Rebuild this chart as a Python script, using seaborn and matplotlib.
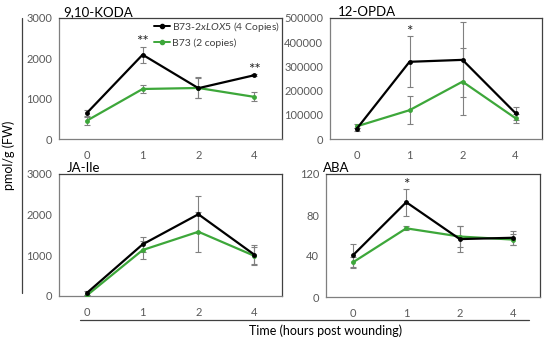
import numpy as np
import pandas as pd
import seaborn as sns
import matplotlib
matplotlib.use("Agg")
import matplotlib.pyplot as plt
from matplotlib.lines import Line2D

#%% data
times = ["0", "1", "2", "4"]

koda_lox5 = [645, 2090, 1260, 1580]
koda_lox5_err = [80, 200, 250, 30]
koda_b73 = [455, 1240, 1265, 1045]
koda_b73_err = [100, 110, 260, 115]

opda_lox5 = [41000, 319000, 327000, 107000]
opda_lox5_err = [6000, 106000, 155000, 27000]
opda_b73 = [52000, 119000, 237000, 86000]
opda_b73_err = [8000, 59000, 138000, 18000]

jaile_lox5 = [75, 1270, 2010, 1020]
jaile_lox5_err = [60, 190, 460, 230]
jaile_b73 = [15, 1130, 1580, 990]
jaile_b73_err = [20, 225, 490, 220]

aba_lox5 = [40.5, 92.5, 56.5, 57.8]
aba_lox5_err = [11, 13, 13, 7]
aba_b73 = [33.7, 67, 59, 56]
aba_b73_err = [5, 2, 10, 5]

titles = ["9,10-KODA", "12-OPDA", "JA-Ile", "ABA"]
y_max = [3000, 500000, 3000, 120]
y_step = [1000, 100000, 1000, 40]
# significance marks: (time index, text)
stars = [[(1, "**"), (3, "**")], [(1, "*")], [], [(1, "*")]]

panels = [
    (koda_lox5, koda_lox5_err, koda_b73, koda_b73_err),
    (opda_lox5, opda_lox5_err, opda_b73, opda_b73_err),
    (jaile_lox5, jaile_lox5_err, jaile_b73, jaile_b73_err),
    (aba_lox5, aba_lox5_err, aba_b73, aba_b73_err),
]

#%% style
sns.set_theme(style="white")
plt.rcParams["font.family"] = ["Lato", "DejaVu Sans"]
plt.rcParams["mathtext.fontset"] = "custom"
plt.rcParams["mathtext.it"] = "Lato:italic"
plt.rcParams["mathtext.rm"] = "Lato"

black = "#000000"
green = "#3DA73A"
grey_txt = "#595959"
err_col = "#808080"

fig = plt.figure(figsize=(5.5, 3.39), dpi=100)

# axes boxes in pixels (left, top, right, bottom)
boxes = [(59, 18, 282, 139), (330, 18, 542, 139),
         (59, 174, 282, 296), (326, 174, 540, 297)]
# title offset from the y axis, pixels
title_dx = [4, 8, 8, -3]

axes = []
for (l, t, r, b) in boxes:
    axes.append(fig.add_axes([l / 550, (339 - b) / 339, (r - l) / 550, (b - t) / 339]))

for i, ax in enumerate(axes):
    lox, lox_e, b73, b73_e = panels[i]
    df = pd.DataFrame({"x": np.arange(len(times)) * 1.0,
                       "lox": lox, "b73": b73})

    ax.errorbar(df["x"], df["b73"], yerr=b73_e, fmt="none", ecolor=err_col,
                elinewidth=0.8, capsize=2, capthick=0.8, zorder=2)
    ax.errorbar(df["x"], df["lox"], yerr=lox_e, fmt="none", ecolor=err_col,
                elinewidth=0.8, capsize=2, capthick=0.8, zorder=2)
    sns.lineplot(data=df, x="x", y="b73", ax=ax, color=green, lw=1.6,
                 marker="o", markersize=3.5, markeredgewidth=0, zorder=3)
    sns.lineplot(data=df, x="x", y="lox", ax=ax, color=black, lw=1.6,
                 marker="o", markersize=3.5, markeredgewidth=0, zorder=4)

    for (k, s) in stars[i]:
        top = lox[k] + lox_e[k]
        ax.annotate(s, (k, top), xytext=(0, -2), textcoords="offset points",
                    ha="center", va="bottom", fontsize=11, color="#222222")

    ax.set_xlim(-0.5, 3.5)
    ax.set_ylim(0, y_max[i])
    ax.set_xticks(range(len(times)))
    ax.set_xticklabels(times)
    ax.set_xticks(np.arange(-0.5, 3.6, 1), minor=True)
    ax.set_yticks(np.arange(0, y_max[i] + 1, y_step[i]))
    ax.tick_params(axis="x", which="major", length=0, pad=8, labelsize=8,
                   labelcolor=grey_txt)
    ax.tick_params(axis="x", which="minor", length=3, width=0.8,
                   direction="out", color="#595959")
    ax.tick_params(axis="y", length=3, width=0.8, direction="out",
                   color="#595959", labelsize=8, labelcolor=grey_txt, pad=2)
    ax.set_xlabel("")
    ax.set_ylabel("")
    for side in ["left", "bottom"]:
        ax.spines[side].set_color("#7f7f7f")
        ax.spines[side].set_linewidth(0.9)
    for side in ["top", "right"]:
        ax.spines[side].set_color("#404040")
        ax.spines[side].set_linewidth(0.9)
    w = boxes[i][2] - boxes[i][0]
    ax.text(title_dx[i] / w, 1.0, titles[i], transform=ax.transAxes,
            ha="left", va="bottom", fontsize=9.5, color="black")

# legend in the first panel
handles = [Line2D([], [], color=black, lw=1.4, marker="o", markersize=3),
           Line2D([], [], color=green, lw=1.4, marker="o", markersize=3)]
labels = ["B73-$\\it{2xLOX5}$ (4 Copies)", "B73 (2 copies)"]
leg = axes[0].legend(handles, labels, loc="upper left",
                     bbox_to_anchor=(0.426, 0.985), frameon=False, fontsize=7.5,
                     handlelength=1.5, handletextpad=0.2, labelspacing=0.45,
                     borderaxespad=0, borderpad=0)
for t in leg.get_texts():
    t.set_color("#404040")

# shared labels and bracket lines
fig.text(9 / 550, 1 - 155 / 339, "pmol/g (FW)", rotation=90, ha="center",
         va="center", fontsize=9, color="black")
fig.add_artist(Line2D([22 / 550, 22 / 550], [1 - 18 / 339, 1 - 293 / 339],
                      color="#404040", lw=0.9))
fig.add_artist(Line2D([80 / 550, 529 / 550], [1 - 320 / 339, 1 - 320 / 339],
                      color="#404040", lw=0.9))
fig.text(326 / 550, 1 - 331 / 339, "Time (hours post wounding)", ha="center",
         va="center", fontsize=9, color="black")

plt.savefig("out.png", dpi=100)
